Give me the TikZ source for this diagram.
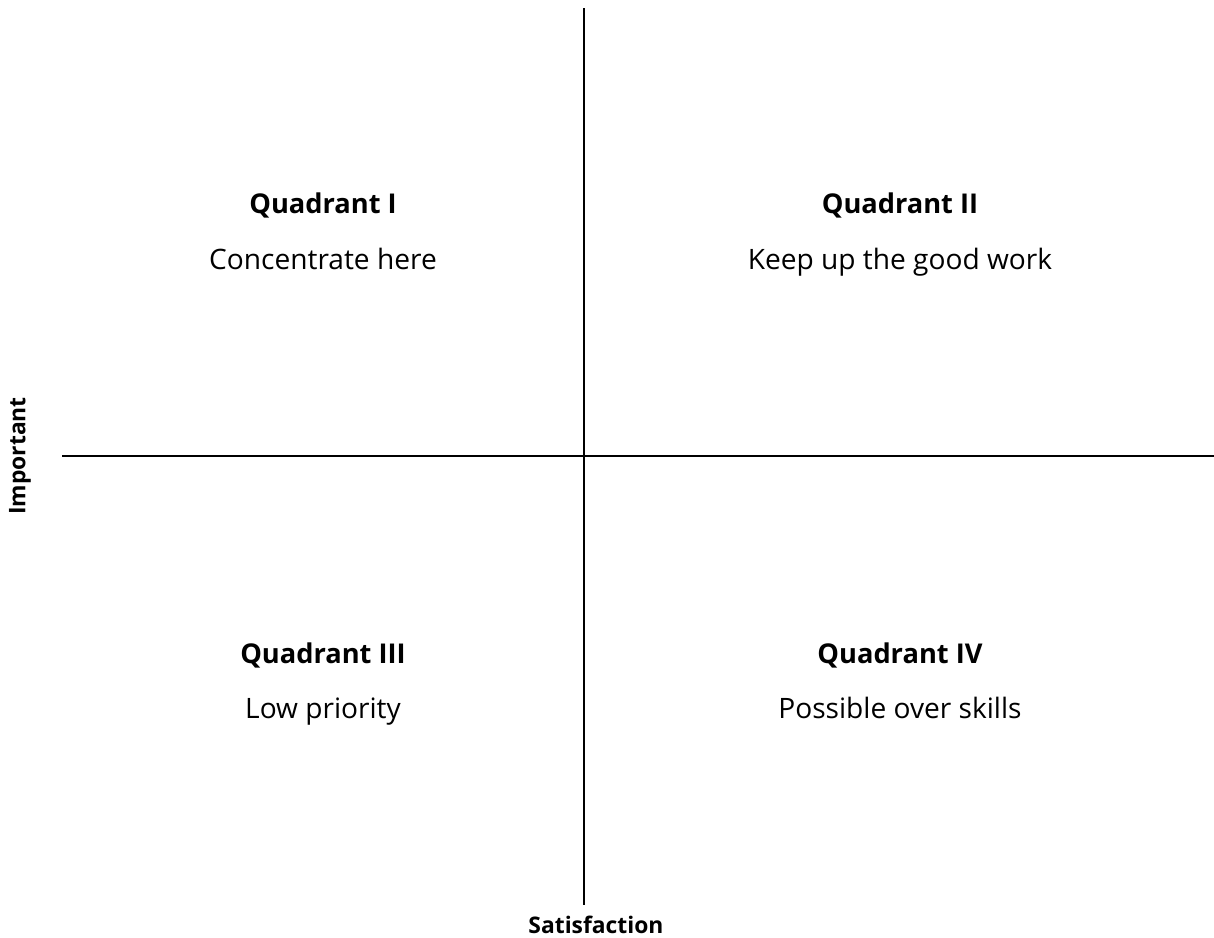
\documentclass[tikz,border=0pt]{standalone}
\usepackage{fontspec}
\setmainfont{Open Sans}
\usepackage{tikz}
\usetikzlibrary{positioning}

\begin{document}
\begin{tikzpicture}[x=0.02cm, y=-0.02cm,
		axis_line/.style={draw=black, line width=1.1pt},
		quad_title/.style={font=\fontsize{15.5}{18}\selectfont\bfseries, inner sep=0pt, anchor=base},
		quad_text/.style={font=\fontsize{16}{19}\selectfont, inner sep=0pt, anchor=base},
		axis_label/.style={font=\fontsize{13}{15}\selectfont\bfseries, inner sep=0pt}]
				
				\useasboundingbox (0, 0) rectangle (1214, 937);
				
				% axes
				\coordinate (top) at (584, 8);
				\coordinate (bottom) at (584, 905);
				\coordinate (left) at (62, 456);
				\coordinate (right) at (1214, 456);
				\draw[axis_line] (top) -- (bottom);
				\draw[axis_line] (left) -- (right);
				
				% quadrants (placed on their baselines)
				\node[quad_title] (q1) at (323, 213) {Quadrant I};
				\node[quad_text] (q1text) at (323, 269) {Concentrate here};
				\node[quad_title] (q2) at (900, 213) {Quadrant II};
				\node[quad_text] (q2text) at (900, 269) {Keep up the good work};
				\node[quad_title] (q3) at (323, 663) {Quadrant III};
				\node[quad_text] (q3text) at (323, 718) {Low priority};
				\node[quad_title] (q4) at (900, 663) {Quadrant IV};
				\node[quad_text] (q4text) at (900, 718) {Possible over skills};
				
				% axis names
				\node[axis_label, rotate=90] (important) at (20, 456) {Important};
				\node[axis_label] (satisfaction) at (596, 925) {Satisfaction};
			\end{tikzpicture}
\end{document}
